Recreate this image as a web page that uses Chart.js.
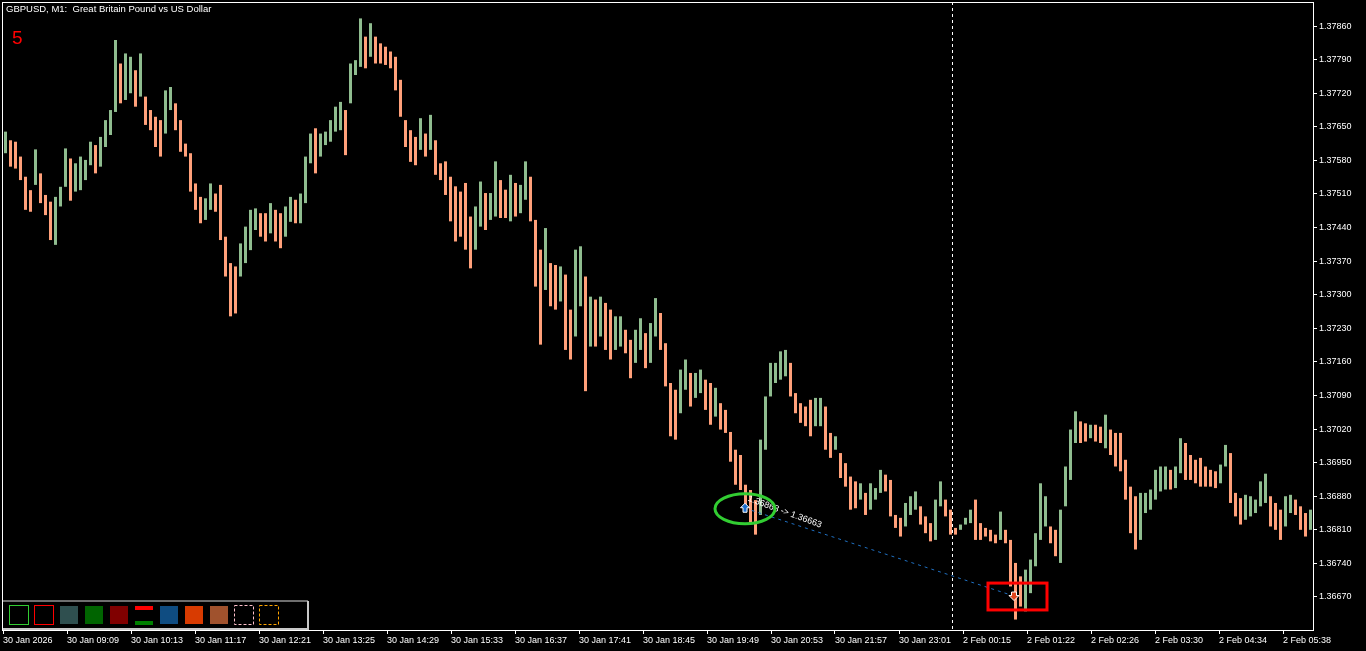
<!DOCTYPE html>
<html>
<head>
<meta charset="utf-8">
<title>GBPUSD M1</title>
<script src="https://cdn.jsdelivr.net/npm/chart.js@4.4.1/dist/chart.umd.min.js"></script>
<style>
html, body { margin: 0; padding: 0; background: #000; overflow: hidden; }
#wrap { width: 1366px; height: 651px; }
</style>
</head>
<body>
<div id="wrap"><canvas id="priceChart" width="1366" height="651"></canvas></div>
<script>
const chartTitle = "GBPUSD, M1:  Great Britain Pound vs US Dollar";
const windowNumber = "5";

// each entry = one 5-minute slice of the M1 bars (high / low of the slice)
const sliceMinutes = 5;
const highs = [
	1.37640, 1.37622, 1.37619, 1.37588, 1.37546, 1.37518, 1.37603, 1.37553, 1.37508, 1.37494,
	1.37504, 1.37525, 1.37605, 1.37584, 1.37574, 1.37588, 1.37581, 1.37619, 1.37612, 1.37629,
	1.37664, 1.37685, 1.37831, 1.37782, 1.37803, 1.37796, 1.37768, 1.37803, 1.37713, 1.37685,
	1.37671, 1.37664, 1.37726, 1.37733, 1.37699, 1.37664, 1.37615, 1.37595, 1.37532, 1.37504,
	1.37501, 1.37532, 1.37511, 1.37529, 1.37421, 1.37366, 1.37359, 1.37407, 1.37442, 1.37477,
	1.37480, 1.37470, 1.37470, 1.37491, 1.37477, 1.37470, 1.37484, 1.37504, 1.37498, 1.37511,
	1.37588, 1.37636, 1.37647, 1.37636, 1.37640, 1.37664, 1.37692, 1.37702, 1.37685, 1.37782,
	1.37789, 1.37876, 1.37838, 1.37866, 1.37838, 1.37824, 1.37817, 1.37807, 1.37796, 1.37748,
	1.37664, 1.37643, 1.37629, 1.37668, 1.37636, 1.37675, 1.37622, 1.37574, 1.37578, 1.37546,
	1.37526, 1.37515, 1.37533, 1.37463, 1.37484, 1.37536, 1.37512, 1.37512, 1.37578, 1.37539,
	1.37519, 1.37550, 1.37533, 1.37529, 1.37578, 1.37546, 1.37456, 1.37394, 1.37439, 1.37366,
	1.37362, 1.37359, 1.37342, 1.37269, 1.37394, 1.37401, 1.37338, 1.37296, 1.37290, 1.37296,
	1.37283, 1.37269, 1.37255, 1.37255, 1.37227, 1.37206, 1.37227, 1.37251, 1.37220, 1.37241,
	1.37293, 1.37262, 1.37199, 1.37116, 1.37102, 1.37144, 1.37165, 1.37137, 1.37137, 1.37144,
	1.37123, 1.37116, 1.37106, 1.37074, 1.37060, 1.37014, 1.36977, 1.36966, 1.36904, 1.36893,
	1.36872, 1.36998, 1.37088, 1.37158, 1.37158, 1.37182, 1.37185, 1.37158, 1.37095, 1.37074,
	1.37067, 1.37081, 1.37085, 1.37085, 1.37067, 1.37012, 1.37005, 1.36970, 1.36949, 1.36921,
	1.36911, 1.36907, 1.36887, 1.36907, 1.36897, 1.36935, 1.36925, 1.36914, 1.36841, 1.36835,
	1.36866, 1.36880, 1.36890, 1.36859, 1.36838, 1.36824, 1.36873, 1.36911, 1.36873, 1.36852,
	1.36814, 1.36821, 1.36835, 1.36852, 1.36873, 1.36824, 1.36814, 1.36810, 1.36800, 1.36848,
	1.36810, 1.36789, 1.36741, 1.36713, 1.36727, 1.36748, 1.36803, 1.36907, 1.36880, 1.36817,
	1.36810, 1.36852, 1.36942, 1.37019, 1.37057, 1.37036, 1.37032, 1.37029, 1.37029, 1.37025,
	1.37050, 1.37019, 1.37012, 1.37012, 1.36956, 1.36900, 1.36880, 1.36887, 1.36887, 1.36894,
	1.36935, 1.36942, 1.36942, 1.36935, 1.36942, 1.37001, 1.36991, 1.36966, 1.36956, 1.36960,
	1.36942, 1.36935, 1.36932, 1.36946, 1.36987, 1.36970, 1.36887, 1.36876, 1.36883, 1.36880,
	1.36873, 1.36911, 1.36927, 1.36880, 1.36866, 1.36852, 1.36880, 1.36883, 1.36873, 1.36859,
	1.36845, 1.36852
];
const lows = [
	1.37595, 1.37567, 1.37563, 1.37539, 1.37477, 1.37473, 1.37529, 1.37491, 1.37466, 1.37414,
	1.37404, 1.37484, 1.37525, 1.37496, 1.37515, 1.37518, 1.37539, 1.37570, 1.37553, 1.37567,
	1.37608, 1.37633, 1.37681, 1.37699, 1.37706, 1.37720, 1.37692, 1.37713, 1.37654, 1.37643,
	1.37608, 1.37588, 1.37636, 1.37685, 1.37643, 1.37598, 1.37588, 1.37515, 1.37477, 1.37449,
	1.37456, 1.37477, 1.37473, 1.37414, 1.37338, 1.37255, 1.37261, 1.37338, 1.37366, 1.37393,
	1.37435, 1.37421, 1.37411, 1.37428, 1.37411, 1.37397, 1.37421, 1.37452, 1.37449, 1.37449,
	1.37491, 1.37574, 1.37553, 1.37588, 1.37612, 1.37619, 1.37640, 1.37643, 1.37591, 1.37699,
	1.37758, 1.37775, 1.37772, 1.37796, 1.37782, 1.37782, 1.37779, 1.37772, 1.37726, 1.37671,
	1.37608, 1.37577, 1.37570, 1.37602, 1.37588, 1.37602, 1.37550, 1.37539, 1.37508, 1.37453,
	1.37411, 1.37421, 1.37394, 1.37355, 1.37394, 1.37442, 1.37435, 1.37456, 1.37463, 1.37460,
	1.37460, 1.37453, 1.37463, 1.37470, 1.37498, 1.37453, 1.37317, 1.37196, 1.37310, 1.37276,
	1.37269, 1.37286, 1.37185, 1.37165, 1.37213, 1.37276, 1.37099, 1.37192, 1.37192, 1.37213,
	1.37185, 1.37165, 1.37185, 1.37192, 1.37178, 1.37126, 1.37158, 1.37185, 1.37147, 1.37158,
	1.37213, 1.37185, 1.37109, 1.37005, 1.36998, 1.37053, 1.37102, 1.37067, 1.37085, 1.37095,
	1.37060, 1.37029, 1.37046, 1.37019, 1.37012, 1.36952, 1.36904, 1.36893, 1.36847, 1.36825,
	1.36800, 1.36841, 1.36977, 1.37088, 1.37116, 1.37123, 1.37130, 1.37088, 1.37053, 1.37033,
	1.37026, 1.37005, 1.37026, 1.37026, 1.36977, 1.36960, 1.36977, 1.36918, 1.36900, 1.36852,
	1.36855, 1.36873, 1.36841, 1.36852, 1.36873, 1.36887, 1.36890, 1.36838, 1.36814, 1.36796,
	1.36817, 1.36841, 1.36852, 1.36821, 1.36803, 1.36786, 1.36789, 1.36859, 1.36838, 1.36800,
	1.36800, 1.36810, 1.36821, 1.36824, 1.36789, 1.36789, 1.36796, 1.36786, 1.36782, 1.36789,
	1.36782, 1.36692, 1.36623, 1.36650, 1.36640, 1.36678, 1.36734, 1.36789, 1.36817, 1.36782,
	1.36755, 1.36741, 1.36859, 1.36914, 1.36991, 1.36991, 1.36994, 1.37001, 1.36994, 1.36991,
	1.36980, 1.36966, 1.36942, 1.36932, 1.36873, 1.36803, 1.36769, 1.36789, 1.36845, 1.36852,
	1.36873, 1.36890, 1.36894, 1.36894, 1.36897, 1.36928, 1.36914, 1.36914, 1.36907, 1.36900,
	1.36900, 1.36900, 1.36897, 1.36907, 1.36942, 1.36866, 1.36838, 1.36821, 1.36831, 1.36838,
	1.36845, 1.36859, 1.36866, 1.36817, 1.36810, 1.36789, 1.36817, 1.36845, 1.36841, 1.36810,
	1.36796, 1.36810
];

const timeLabels = [
	"30 Jan 2026", "30 Jan 09:09", "30 Jan 10:13", "30 Jan 11:17", "30 Jan 12:21",
	"30 Jan 13:25", "30 Jan 14:29", "30 Jan 15:33", "30 Jan 16:37", "30 Jan 17:41",
	"30 Jan 18:45", "30 Jan 19:49", "30 Jan 20:53", "30 Jan 21:57", "30 Jan 23:01",
	"2 Feb 00:15", "2 Feb 01:22", "2 Feb 02:26", "2 Feb 03:30", "2 Feb 04:34", "2 Feb 05:38"
];
const timeTickMinutes = [0, 64, 128, 192, 256, 320, 384, 448, 512, 576, 640, 704, 768, 832, 896, 960, 1024, 1088, 1152, 1216, 1280];
const priceTicks = [
	1.36670, 1.36740, 1.36810, 1.36880, 1.36950, 1.37020, 1.37090, 1.37160, 1.37230,
	1.37300, 1.37370, 1.37440, 1.37510, 1.37580, 1.37650, 1.37720, 1.37790, 1.37860
];

const separatorMinute = 949;
const tradeOpen = { minute: 742, price: 1.36855 };
const tradeClose = { minute: 1011, price: 1.36672 };
const tradeText = "1.36863 -> 1.36663";
const closeBox = { fromMinute: 985, toMinute: 1044, top: 1.36699, bottom: 1.36643 };

const bullColor = "#8fbc8f";
const bearColor = "#ffa07a";
const fontFamily = "'Liberation Sans', Arial, sans-serif";

const points = highs.map((h, i) => ({ x: i * sliceMinutes + 2.5, y: [lows[i], h] }));
const colors = highs.map((h, i) => {
	if (i === 0) return bullColor;
	const mid = (h + lows[i]) / 2;
	const prevMid = (highs[i - 1] + lows[i - 1]) / 2;
	return mid >= prevMid ? bullColor : bearColor;
});

const overlayPlugin = {
	id: "overlay",
	afterDatasetsDraw(chart) {
		const ctx = chart.ctx;
		const xs = chart.scales.x;
		const ys = chart.scales.y;
		const area = chart.chartArea;
		ctx.save();

		// period separator
		ctx.strokeStyle = "#ffffff";
		ctx.lineWidth = 1;
		ctx.setLineDash([3, 3]);
		const sx = Math.round(xs.getPixelForValue(separatorMinute)) + 0.5;
		ctx.beginPath();
		ctx.moveTo(sx, area.top);
		ctx.lineTo(sx, area.bottom);
		ctx.stroke();

		// trade line
		const ox = xs.getPixelForValue(tradeOpen.minute);
		const oy = ys.getPixelForValue(tradeOpen.price);
		const cx = xs.getPixelForValue(tradeClose.minute);
		const cy = ys.getPixelForValue(tradeClose.price);
		ctx.strokeStyle = "#1f6fc0";
		ctx.setLineDash([3, 4]);
		ctx.beginPath();
		ctx.moveTo(ox, oy);
		ctx.lineTo(cx, cy);
		ctx.stroke();
		ctx.setLineDash([]);

		// trade text along the line
		ctx.save();
		ctx.translate(ox + 3, oy - 10);
		ctx.rotate(Math.atan2(cy - oy, cx - ox) + 0.04);
		ctx.fillStyle = "#ffffff";
		ctx.font = "9px " + fontFamily;
		ctx.textBaseline = "middle";
		ctx.fillText(tradeText, 0, 0);
		ctx.restore();

		// green ellipse around entry
		ctx.strokeStyle = "#32cd32";
		ctx.lineWidth = 3;
		ctx.beginPath();
		ctx.ellipse(ox, oy + 0.5, 30, 15, 0, 0, Math.PI * 2);
		ctx.stroke();

		// buy arrow
		ctx.lineWidth = 1;
		ctx.fillStyle = "#1c6fd0";
		ctx.strokeStyle = "#ffffff";
		ctx.beginPath();
		ctx.moveTo(ox, oy - 5);
		ctx.lineTo(ox + 4.5, oy - 0.5);
		ctx.lineTo(ox + 2, oy - 0.5);
		ctx.lineTo(ox + 2, oy + 4);
		ctx.lineTo(ox - 2, oy + 4);
		ctx.lineTo(ox - 2, oy - 0.5);
		ctx.lineTo(ox - 4.5, oy - 0.5);
		ctx.closePath();
		ctx.fill();
		ctx.stroke();

		// close arrow
		ctx.fillStyle = "#e2451c";
		ctx.beginPath();
		ctx.moveTo(cx - 2.5, cy - 4);
		ctx.lineTo(cx + 2.5, cy - 4);
		ctx.lineTo(cx + 2.5, cy - 0.5);
		ctx.lineTo(cx + 5, cy - 0.5);
		ctx.lineTo(cx, cy + 4.5);
		ctx.lineTo(cx - 5, cy - 0.5);
		ctx.lineTo(cx - 2.5, cy - 0.5);
		ctx.closePath();
		ctx.fill();
		ctx.stroke();

		// red box around close
		const bx1 = xs.getPixelForValue(closeBox.fromMinute);
		const bx2 = xs.getPixelForValue(closeBox.toMinute);
		const by1 = ys.getPixelForValue(closeBox.top);
		const by2 = ys.getPixelForValue(closeBox.bottom);
		ctx.strokeStyle = "#ff0000";
		ctx.lineWidth = 3;
		ctx.strokeRect(bx1, by1, bx2 - bx1, by2 - by1);

		// plot frame
		ctx.strokeStyle = "#ffffff";
		ctx.lineWidth = 1;
		ctx.strokeRect(area.left + 0.5, area.top + 0.5, area.right - area.left, area.bottom - area.top);

		// title and window number
		ctx.fillStyle = "#ffffff";
		ctx.font = "9.5px " + fontFamily;
		ctx.textBaseline = "middle";
		ctx.fillText(chartTitle, 6, 9);
		ctx.fillStyle = "#ff0000";
		ctx.font = "19px " + fontFamily;
		ctx.fillText(windowNumber, 12, 39);

		drawToolbox(ctx);
		ctx.restore();
	}
};

function drawToolbox(ctx) {
	// box of object presets, bottom-left corner
	ctx.fillStyle = "#000";
	ctx.fillRect(3, 600, 306, 30);
	ctx.lineWidth = 2;
	ctx.strokeStyle = "#6e6e6e";
	ctx.beginPath();
	ctx.moveTo(3, 601);
	ctx.lineTo(308, 601);
	ctx.stroke();
	ctx.strokeStyle = "#c8c8c8";
	ctx.beginPath();
	ctx.moveTo(308, 601);
	ctx.lineTo(308, 629);
	ctx.lineTo(3, 629);
	ctx.stroke();

	ctx.lineWidth = 1;
	ctx.strokeStyle = "#32cd32";
	ctx.strokeRect(9.5, 605.5, 19, 19);
	ctx.strokeStyle = "#ff0000";
	ctx.strokeRect(34.5, 605.5, 19, 19);

	const fills = ["#2f4f4f", "#006400", "#800000", null, "#0f4c81", "#d83b01", "#a0522d"];
	fills.forEach((c, i) => {
		if (!c) return;
		ctx.fillStyle = c;
		ctx.fillRect(60 + i * 25, 606, 18, 18);
	});
	ctx.fillStyle = "#ff0000";
	ctx.fillRect(135, 606, 18, 4);
	ctx.fillStyle = "#008000";
	ctx.fillRect(135, 621, 18, 4);

	ctx.setLineDash([3, 2]);
	ctx.strokeStyle = "#ffc0cb";
	ctx.strokeRect(234.5, 605.5, 19, 19);
	ctx.strokeStyle = "#ffa500";
	ctx.strokeRect(259.5, 605.5, 19, 19);
	ctx.setLineDash([]);
}

function noPadding(scale) {
	scale.paddingTop = 0;
	scale.paddingBottom = 0;
	scale.paddingLeft = 0;
	scale.paddingRight = 0;
}

const ctx = document.getElementById("priceChart").getContext("2d");

new Chart(ctx, {
	type: "bar",
	data: {
		datasets: [
			{
				label: "GBPUSD",
				data: points,
				backgroundColor: colors,
				borderWidth: 0,
				barThickness: 3,
				inflateAmount: 0,
			},
		],
	},
	options: {
		responsive: false,
		animation: false,
		events: [],
		layout: { padding: { left: 2, top: 2, right: 0, bottom: 0 } },
		plugins: {
			legend: { display: false },
			tooltip: { enabled: false },
		},
		scales: {
			x: {
				type: "linear",
				position: "bottom",
				min: -1,
				max: 1310,
				offset: false,
				border: { display: false },
				grid: { display: true, offset: false, drawOnChartArea: false, drawTicks: true, tickLength: 4, color: "#ffffff" },
				ticks: {
					color: "#ffffff",
					font: { family: fontFamily, size: 9 },
					align: "start",
					maxRotation: 0,
					autoSkip: false,
					padding: 1,
					callback: (value, index) => timeLabels[index],
				},
				afterBuildTicks: (scale) => {
					scale.ticks = timeTickMinutes.map((v) => ({ value: v }));
				},
				afterFit: (scale) => {
					scale.height = 21;
					noPadding(scale);
				},
			},
			y: {
				position: "right",
				min: 1.366012,
				max: 1.379102,
				beginAtZero: false,
				border: { display: false },
				grid: { display: true, drawOnChartArea: false, drawTicks: true, tickLength: 4, color: "#ffffff" },
				ticks: {
					color: "#ffffff",
					font: { family: fontFamily, size: 9 },
					padding: 2,
					callback: (value) => value.toFixed(5),
				},
				afterBuildTicks: (scale) => {
					scale.ticks = priceTicks.map((v) => ({ value: v }));
				},
				afterFit: (scale) => {
					scale.width = 53;
					noPadding(scale);
				},
			},
		},
	},
	plugins: [overlayPlugin],
});
</script>
</body>
</html>
